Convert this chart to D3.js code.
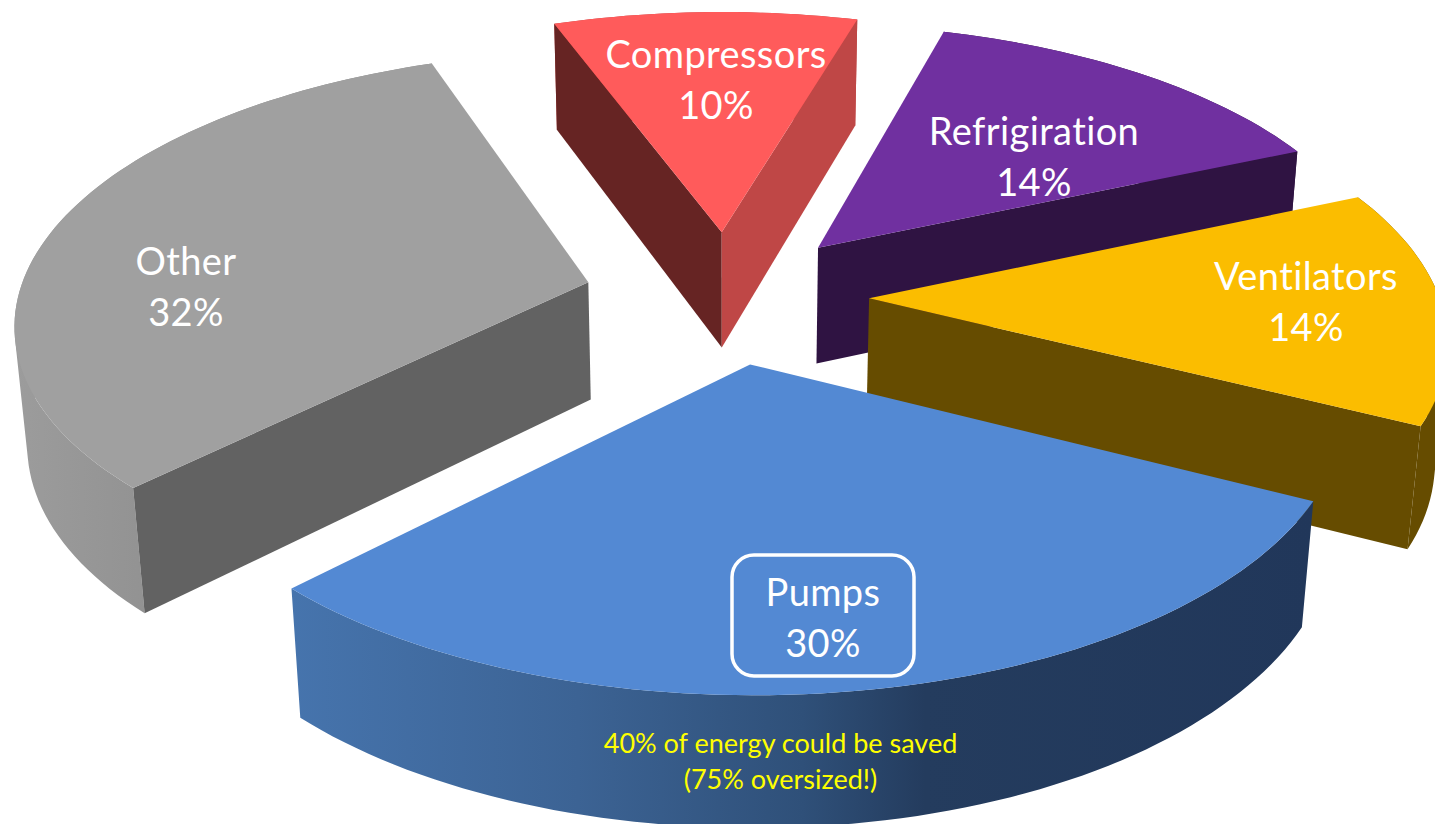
<!DOCTYPE html>
<html>
<head>
<meta charset="utf-8">
<title>Electric motor energy use by application</title>
<script src="https://cdn.jsdelivr.net/npm/d3@7"></script>
<style>
  html, body { margin: 0; padding: 0; background: #fff; overflow: hidden; }
  svg { display: block; }
  text { font-family: Lato, "Open Sans", sans-serif; text-anchor: middle; font-variant-ligatures: none; }
</style>
</head>
<body>
<script>
// Share of motor energy use, clockwise from the top of the pie.
const categories = ["Compressors", "Refrigiration", "Ventilators", "Pumps", "Other"];
const shares = [10, 14, 14, 30, 32];

const topColors = ["#FF5B5B", "#7030A0", "#FBBD00", "#5389D3", "#A0A0A0"];
const wallStartColors = ["#662423", "#2F1342", "#664C00", "#3F6DA6", "#626262"];
const wallEndColors = ["#BF4746", "#2F1342", "#664C00", "#21375A", "#626262"];

const width = 1435, height = 824;

// Perspective camera for the tilted pie plane.
const cam = { cx: 726.5, cy: 296.5, ax: 570, ay: 266, persp: 0.135, drop: 120, vanish: 0.018 };
const explode = 0.25;
const startDeg = -20;

function project(x, y, down) {
  const w = 1 - cam.persp * y + (down ? cam.vanish : 0);
  return [
    cam.cx + cam.ax * x / w,
    cam.cy + (cam.ay * y + (down ? cam.drop : 0)) / w
  ];
}

const pie = d3.pie().sort(null).value(d => d)
  .startAngle(startDeg * Math.PI / 180)
  .endAngle((startDeg + 360) * Math.PI / 180);
const slices = pie(shares);

const svg = d3.select("body").append("svg").attr("width", width).attr("height", height);
const defs = svg.append("defs");
const line = d3.line();

// Horizontal shading for the curved outer walls.
const rimShades = {
  Pumps: [[0, "#4674AD"], [0.28, "#3C6394"], [0.5, "#2F5079"], [0.62, "#243C5E"], [1, "#21375A"]],
  Other: [[0, "#9C9C9C"], [0.45, "#8E8E8E"], [1, "#8A8A8A"]]
};

const cross = (a, b) => a[0] * b[1] - a[1] * b[0];
const minus = (a, b) => [a[0] - b[0], a[1] - b[1]];

function build(slice, i) {
  const mid = (slice.startAngle + slice.endAngle) / 2;
  const ox = explode * Math.sin(mid), oy = -explode * Math.cos(mid);
  const steps = Math.max(8, Math.round((slice.endAngle - slice.startAngle) * 40));
  const angle = d3.scaleLinear().domain([0, steps]).range([slice.startAngle, slice.endAngle]);
  const rim = d3.range(steps + 1).map(k => [ox + Math.sin(angle(k)), oy - Math.cos(angle(k))]);
  const apex = [ox, oy];
  const p = (q, down) => project(q[0], q[1], down);
  const apexTop = p(apex), midTop = p(rim[Math.round(steps / 2)]);

  // A radial wall shows only when the slice's top face lies on the side away from the drop.
  const facesViewer = end => {
    const edge = minus(p(end), apexTop);
    return cross(edge, minus(midTop, apexTop)) * cross(edge, [0, 1]) < 0;
  };
  const wall = (end, fill) => ({
    pts: [apexTop, p(end), p(end, true), p(apex, true)],
    visible: facesViewer(end),
    fill
  });

  // One compound path for the curved wall, every cell wound the same way so the fill stays solid.
  const rimCells = d3.pairs(rim).map(([a, b]) => {
    const cell = [p(a), p(b), p(b, true), p(a, true)];
    return d3.polygonArea(cell) < 0 ? cell.reverse() : cell;
  });

  return {
    name: categories[i],
    topPath: [apexTop, ...rim.map(q => p(q))],
    rimPath: rimCells.map(c => line(c) + "Z").join(""),
    walls: [wall(rim[0], wallStartColors[i]), wall(rim[steps], wallEndColors[i])],
    xs: rim.flatMap(q => [p(q)[0], p(q, true)[0]]),
    i
  };
}

const solids = slices.map(build);
// Paint back to front so nearer slices overlap the farther ones.
const paintOrder = ["Other", "Compressors", "Refrigiration", "Ventilators", "Pumps"];

paintOrder.forEach(name => {
  const s = solids.find(d => d.name === name);
  const g = svg.append("g").attr("class", "slice");
  let rimFill = wallEndColors[s.i];
  if (rimShades[name]) {
    const id = "rim-" + name;
    const grad = defs.append("linearGradient").attr("id", id)
      .attr("gradientUnits", "userSpaceOnUse")
      .attr("x1", d3.min(s.xs)).attr("x2", d3.max(s.xs)).attr("y1", 0).attr("y2", 0);
    rimShades[name].forEach(st => grad.append("stop").attr("offset", st[0]).attr("stop-color", st[1]));
    rimFill = `url(#${id})`;
  }
  g.append("path").attr("d", s.rimPath).attr("fill", rimFill);
  s.walls.filter(w => w.visible).forEach(w => {
    g.append("path").attr("d", line(w.pts) + "Z").attr("fill", w.fill);
  });
  g.append("path").attr("d", line(s.topPath) + "Z").attr("fill", topColors[s.i]);
});

// Slice captions: name on the first line, share below it.
const captionAnchors = {
  Compressors: [716, 68], Refrigiration: [1034, 145], Ventilators: [1306, 290],
  Pumps: [823, 606], Other: [186, 275]
};
const captionFont = 38, captionLeading = 51;

categories.forEach((name, i) => {
  const [x, y] = captionAnchors[name];
  const t = svg.append("text").attr("fill", "#fff").attr("font-size", captionFont)
    .attr("letter-spacing", 0.4);
  t.append("tspan").attr("x", x).attr("y", y).text(name);
  t.append("tspan").attr("x", x).attr("y", y + captionLeading).text(shares[i] + "%");
});

// Outline around the pumps caption.
svg.append("rect").attr("x", 732).attr("y", 555).attr("width", 182).attr("height", 121)
  .attr("rx", 22).attr("fill", "none").attr("stroke", "#fff").attr("stroke-width", 3.5);

// Note printed on the pumps wall.
const noteLines = ["40% of energy could be saved", "(75% oversized!)"];
noteLines.forEach((txt, k) => {
  svg.append("text").attr("x", 780.5).attr("y", 752.5 + k * 36.5)
    .attr("fill", "#FFFF00").attr("font-size", 27).text(txt);
});
</script>
</body>
</html>
